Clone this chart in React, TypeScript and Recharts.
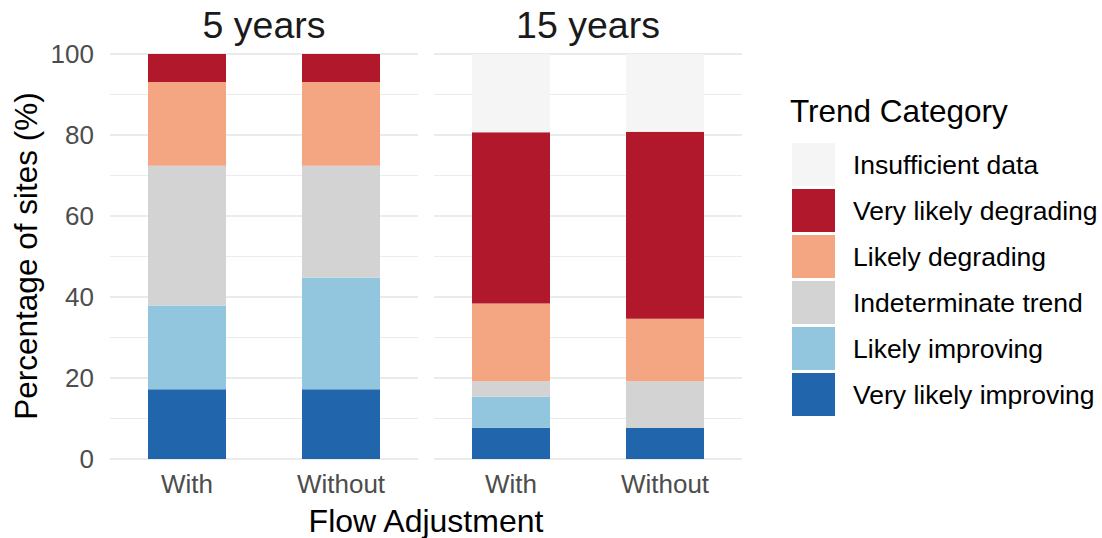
import React from 'react';
import { BarChart, Bar, XAxis, YAxis, CartesianGrid } from 'recharts';

const FONT = '"Liberation Sans", Arial, Helvetica, sans-serif';

const flowAdjustment = ['With', 'Without'];
const panelTitles = ['5 years', '15 years'];
const trendCategories = [
  'Very likely improving',
  'Likely improving',
  'Indeterminate trend',
  'Likely degrading',
  'Very likely degrading',
  'Insufficient data',
];
const trendColors = ['#2166AC', '#92C5DE', '#D3D3D3', '#F4A582', '#B2182B', '#F5F5F5'];

// percentages, bottom to top in the order of trendCategories
const fiveYearsWith = [17.2, 20.7, 34.5, 20.7, 6.9, 0];
const fiveYearsWithout = [17.2, 27.6, 27.6, 20.7, 6.9, 0];
const fifteenYearsWith = [7.7, 7.7, 3.8, 19.2, 42.3, 19.3];
const fifteenYearsWithout = [7.7, 0, 11.5, 15.4, 46.2, 19.2];

const majorTicks = [0, 20, 40, 60, 80, 100];
const minorTicks = [10, 30, 50, 70, 90];

function buildRows(series: number[][]) {
  return flowAdjustment.map((name, r) => {
    const row: Record<string, any> = { name };
    trendCategories.forEach((c, i) => {
      row[c] = series[r][i];
    });
    return row;
  });
}

const fiveData = buildRows([fiveYearsWith, fiveYearsWithout]);
const fifteenData = buildRows([fifteenYearsWith, fifteenYearsWithout]);

const H = 538;
const PLOT_TOP = 54;
const PLOT_BOTTOM = 459;
const X_AXIS_H = 30;

function Panel(props: { data: any[]; width: number; left: number; right: number; showY: boolean }) {
  const { data, width, left, right, showY } = props;
  return (
    <BarChart
      width={width}
      height={H}
      data={data}
      margin={{ top: PLOT_TOP, bottom: H - PLOT_BOTTOM - X_AXIS_H, left, right }}
      barCategoryGap={0}
    >
      <CartesianGrid vertical={false} horizontalValues={minorTicks} stroke="#EBEBEB" strokeWidth={1} />
      <CartesianGrid vertical={false} horizontalValues={majorTicks} stroke="#EBEBEB" strokeWidth={2} />
      <XAxis
        dataKey="name"
        height={X_AXIS_H}
        axisLine={false}
        tickLine={false}
        interval={0}
        tickMargin={10}
        tick={{ fill: '#4D4D4D', fontSize: 26, fontFamily: FONT }}
      />
      <YAxis
        hide={!showY}
        width={60}
        domain={[0, 100]}
        ticks={majorTicks}
        axisLine={false}
        tickLine={false}
        tickMargin={10}
        tick={{ fill: '#4D4D4D', fontSize: 26, fontFamily: FONT }}
      />
      {trendCategories.map((c, i) => (
        <Bar key={c} dataKey={c} stackId="s" fill={trendColors[i]} barSize={78} isAnimationActive={false} />
      ))}
    </BarChart>
  );
}

const legendOrder = [...trendCategories.keys()].reverse();

export default function App() {
  return (
    <div style={{ position: 'absolute', left: 0, top: 0, width: 1102, height: H, background: '#fff', fontFamily: FONT }}>
      <div style={{ position: 'absolute', left: 0, top: 0 }}>
        <Panel data={fiveData} width={420} left={50} right={2} showY={true} />
      </div>
      <div style={{ position: 'absolute', left: 420, top: 0 }}>
        <Panel data={fifteenData} width={330} left={14} right={8} showY={false} />
      </div>
      <svg
        width={1102}
        height={H}
        style={{ position: 'absolute', left: 0, top: 0, pointerEvents: 'none' }}
        fontFamily={FONT}
      >
        <text x={264} y={38} textAnchor="middle" fontSize={37.5} fill="#1A1A1A">{panelTitles[0]}</text>
        <text x={588} y={38} textAnchor="middle" fontSize={37.5} fill="#1A1A1A">{panelTitles[1]}</text>
        <text
          x={0}
          y={0}
          transform="translate(37, 256) rotate(-90)"
          textAnchor="middle"
          fontSize={31.5}
          fill="#000"
        >
          Percentage of sites (%)
        </text>
        <text x={426} y={532} textAnchor="middle" fontSize={32} fill="#000">Flow Adjustment</text>
        <text x={790} y={122} fontSize={31.5} fill="#000">Trend Category</text>
        {legendOrder.map((ci, j) => (
          <g key={trendCategories[ci]}>
            <rect x={792} y={143 + j * 46} width={43} height={43} fill={trendColors[ci]} />
            <text x={853} y={143 + j * 46 + 31} fontSize={26.5} fill="#000">{trendCategories[ci]}</text>
          </g>
        ))}
      </svg>
    </div>
  );
}
